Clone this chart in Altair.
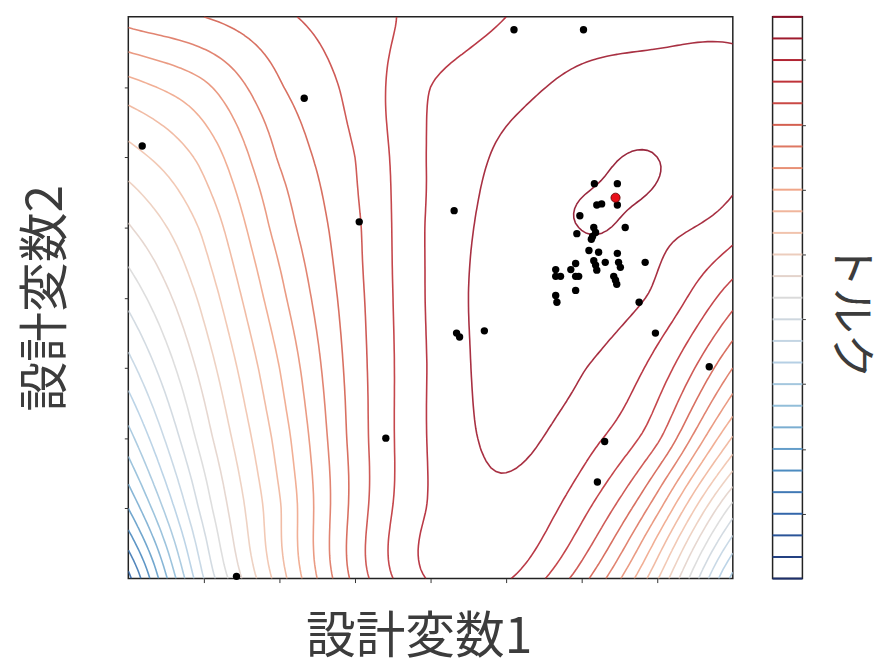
import numpy as np
import pandas as pd
import altair as alt

# ---------------- data ----------------
# torque on a 9 x 9 grid of the design space
grid_d1 = [0.0, 0.125, 0.25, 0.375, 0.5, 0.625, 0.75, 0.875, 1.0]
grid_d2 = [0.0, 0.125, 0.25, 0.375, 0.5, 0.625, 0.75, 0.875, 1.0]
# one list per design-variable-1 column, values from design2 = 0 (bottom) to 1 (top)
torque_c0 = [2.7, 6.0, 8.6, 10.6, 12.3, 13.9, 15.6, 17.6, 20.4]
torque_c1 = [11.0, 12.4, 13.5, 14.4, 15.3, 16.2, 17.3, 18.8, 21.0]
torque_c2 = [16.5, 16.9, 17.4, 18.0, 18.7, 19.4, 20.1, 20.9, 21.8]
torque_c3 = [21.3, 21.35, 21.4, 21.5, 21.65, 21.8, 22.0, 22.3, 22.6]
torque_c4 = [24.1, 24.1, 24.1, 24.1, 24.15, 24.15, 24.1, 24.0, 23.3]
torque_c5 = [24.1, 24.8, 25.2, 25.4, 25.5, 25.4, 25.15, 24.7, 24.0]
torque_c6 = [21.4, 23.3, 24.4, 25.05, 25.5, 26.02, 25.6, 25.25, 24.5]
torque_c7 = [16.1, 19.3, 22.2, 23.6, 24.8, 25.3, 26.0, 25.5, 24.6]
torque_c8 = [8.7, 12.6, 16.9, 20.0, 22.4, 24.45, 25.4, 25.5, 24.7]
# extra readings in and around the innermost (maximum) ring
peak_d1 = [0.78, 0.83, 0.84, 0.76]
peak_d2 = [0.65, 0.70, 0.635, 0.725]
peak_torque = [26.25, 26.25, 25.65, 25.7]

levels = list(range(0, 27))
colorbar_ticks = [3, 6, 9, 12, 15, 18, 21, 24]
axis_ticks = [0.125, 0.25, 0.375, 0.5, 0.625, 0.75, 0.875]

# sampled designs
design1 = [0.023, 0.291, 0.382, 0.638, 0.753, 0.539, 0.543, 0.548, 0.589, 0.426,
           0.179, 0.845, 0.872, 0.961, 0.788, 0.776,
           0.771, 0.809, 0.775, 0.783, 0.809, 0.747, 0.742, 0.770, 0.773, 0.768,
           0.822, 0.766, 0.762, 0.778, 0.809, 0.770, 0.773, 0.775, 0.789, 0.811,
           0.814, 0.855, 0.707, 0.707, 0.715, 0.740, 0.732, 0.740, 0.745, 0.803,
           0.806, 0.808, 0.740, 0.707, 0.709]
design2 = [0.770, 0.855, 0.635, 0.977, 0.977, 0.655, 0.437, 0.430, 0.441, 0.250,
           0.004, 0.492, 0.437, 0.377, 0.244, 0.172,
           0.703, 0.703, 0.665, 0.667, 0.665, 0.646, 0.614, 0.625, 0.616, 0.609,
           0.625, 0.604, 0.584, 0.581, 0.579, 0.566, 0.558, 0.549, 0.563, 0.563,
           0.554, 0.563, 0.550, 0.538, 0.538, 0.561, 0.550, 0.538, 0.538, 0.538,
           0.531, 0.524, 0.513, 0.504, 0.492]
best_d1 = [0.806]
best_d2 = [0.678]

# ---------------- smooth surface through the readings (thin-plate spline) ----------------
cols = [torque_c0, torque_c1, torque_c2, torque_c3, torque_c4,
        torque_c5, torque_c6, torque_c7, torque_c8]
nodes, vals = [], []
for i, u in enumerate(grid_d1):
    for j, v in enumerate(grid_d2):
        nodes.append((u, v))
        vals.append(cols[i][j])
for u, v, t in zip(peak_d1, peak_d2, peak_torque):
    nodes.append((u, v))
    vals.append(t)
P = np.array(nodes, dtype=float)
F = np.array(vals, dtype=float)


def phi(r):
    out = np.zeros_like(r)
    m = r > 0
    out[m] = r[m] ** 2 * np.log(r[m])
    return out


n = len(P)
K = phi(np.sqrt(((P[:, None, :] - P[None, :, :]) ** 2).sum(-1)))
Pm = np.hstack([np.ones((n, 1)), P])
A = np.zeros((n + 3, n + 3))
A[:n, :n] = K
A[:n, n:] = Pm
A[n:, :n] = Pm.T
sol = np.linalg.solve(A, np.concatenate([F, np.zeros(3)]))
w, a = sol[:n], sol[n:]

N = 121
xs = np.linspace(0, 1, N)
ys = np.linspace(0, 1, N)
X, Y = np.meshgrid(xs, ys)
Q = np.stack([X.ravel(), Y.ravel()], 1)
Z = phi(np.sqrt(((Q[:, None, :] - P[None, :, :]) ** 2).sum(-1))) @ w
Z = (Z + a[0] + a[1] * Q[:, 0] + a[2] * Q[:, 1]).reshape(N, N)

# ---------------- marching squares ----------------
cmin = np.minimum(np.minimum(Z[:-1, :-1], Z[:-1, 1:]), np.minimum(Z[1:, :-1], Z[1:, 1:]))
cmax = np.maximum(np.maximum(Z[:-1, :-1], Z[:-1, 1:]), np.maximum(Z[1:, :-1], Z[1:, 1:]))


def contour(level):
    B = Z > level
    pts = {}

    def ept(key):
        if key in pts:
            return pts[key]
        kind, j, i = key
        if kind == 0:
            z0, z1 = Z[j, i], Z[j, i + 1]
            t = (level - z0) / (z1 - z0)
            p = (xs[i] + t * (xs[i + 1] - xs[i]), ys[j])
        else:
            z0, z1 = Z[j, i], Z[j + 1, i]
            t = (level - z0) / (z1 - z0)
            p = (xs[i], ys[j] + t * (ys[j + 1] - ys[j]))
        pts[key] = p
        return p

    segs = []
    for j, i in np.argwhere((cmin < level) & (cmax > level)):
        j, i = int(j), int(i)
        c = int(B[j, i]) | int(B[j, i + 1]) << 1 | int(B[j + 1, i + 1]) << 2 | int(B[j + 1, i]) << 3
        bot, rig, top, lef = (0, j, i), (1, j, i + 1), (0, j + 1, i), (1, j, i)
        center = (Z[j, i] + Z[j, i + 1] + Z[j + 1, i] + Z[j + 1, i + 1]) / 4
        table = {1: [(lef, bot)], 2: [(bot, rig)], 3: [(lef, rig)], 4: [(rig, top)],
                 6: [(bot, top)], 7: [(lef, top)], 8: [(lef, top)], 9: [(bot, top)],
                 11: [(rig, top)], 12: [(lef, rig)], 13: [(bot, rig)], 14: [(lef, bot)]}
        if c == 5:
            s = [(bot, rig), (lef, top)] if center > level else [(lef, bot), (rig, top)]
        elif c == 10:
            s = [(lef, bot), (rig, top)] if center > level else [(bot, rig), (lef, top)]
        else:
            s = table.get(c, [])
        segs.extend(s)

    adj = {}
    for k, (p, q) in enumerate(segs):
        adj.setdefault(p, []).append(k)
        adj.setdefault(q, []).append(k)
    used = [False] * len(segs)
    paths = []
    for k in range(len(segs)):
        if used[k]:
            continue
        used[k] = True
        path = [segs[k][0], segs[k][1]]
        for direction in (1, 0):
            while True:
                end = path[-1] if direction else path[0]
                nxt = [s for s in adj[end] if not used[s]]
                if not nxt:
                    break
                s = nxt[0]
                used[s] = True
                p, q = segs[s]
                other = q if p == end else p
                if direction:
                    path.append(other)
                else:
                    path.insert(0, other)
        paths.append([ept(e) for e in path])
    return paths


rows = []
pid = 0
for lv in levels:
    for path in contour(lv):
        for k, (x, y) in enumerate(path):
            rows.append({"d1": round(float(x), 4), "d2": round(float(y), 4),
                         "level": lv, "path": pid, "idx": k})
        pid += 1
lines_df = pd.DataFrame(rows)
pts_df = pd.DataFrame({"d1": design1, "d2": design2})
best_df = pd.DataFrame({"d1": best_d1, "d2": best_d2})
cb_df = pd.DataFrame({"level": levels})

# ---------------- chart ----------------
color_scale = alt.Scale(
    domain=[0, 26],
    range=["#1d2f6b", "#2e5fa6", "#4f8fc2", "#8fbcd8", "#bcd3e6", "#dadada",
           "#f1c9b4", "#f0a385", "#d66452", "#bb2a35", "#8e1028"],
    interpolate="rgb",
)
xs_scale = alt.Scale(domain=[0, 1], nice=False, zero=False)
ys_scale = alt.Scale(domain=[0, 1], nice=False, zero=False)

TFONT = "Noto Sans CJK JP"
TCOLOR = "#3c3c3c"

x_enc = alt.X("d1:Q", scale=xs_scale,
              axis=alt.Axis(title="設計変数1", values=axis_ticks, labels=False, grid=False,
                            domain=False, tickSize=4, tickColor="#333", titlePadding=30,
                            titleX=292, titleFont=TFONT, titleFontSize=50,
                            titleFontWeight="normal", titleColor=TCOLOR))
y_enc = alt.Y("d2:Q", scale=ys_scale,
              axis=alt.Axis(title="設計変数2", values=axis_ticks, labels=False, grid=False,
                            domain=False, tickSize=4, tickColor="#333", titlePadding=53,
                            titleFont=TFONT, titleFontSize=50,
                            titleFontWeight="normal", titleColor=TCOLOR))

lines = alt.Chart(lines_df).mark_line(strokeWidth=1.6, clip=True, opacity=0.9).encode(
    x=x_enc, y=y_enc,
    detail="path:N", order="idx:Q",
    color=alt.Color("level:Q", scale=color_scale, legend=None),
)
pts = alt.Chart(pts_df).mark_circle(size=55, color="black", opacity=1).encode(
    x=alt.X("d1:Q", scale=xs_scale), y=alt.Y("d2:Q", scale=ys_scale))
best = alt.Chart(best_df).mark_circle(size=85, color="#e8101a", opacity=1,
                                      stroke="#5a0000", strokeWidth=0.8).encode(
    x=alt.X("d1:Q", scale=xs_scale), y=alt.Y("d2:Q", scale=ys_scale))

main = alt.layer(lines, pts, best).properties(width=608, height=565)

colorbar = alt.Chart(cb_df).mark_rule(strokeWidth=2).encode(
    y=alt.Y("level:Q", scale=alt.Scale(domain=[0, 26], nice=False, zero=False),
            axis=alt.Axis(orient="right", title="トルク", values=colorbar_ticks, labels=False,
                          grid=False, domain=False, tickSize=3, tickColor="#333",
                          titlePadding=20, titleFontSize=46, titleY=295,
                          titleFont=TFONT, titleFontWeight="normal", titleColor=TCOLOR)),
    color=alt.Color("level:Q", scale=color_scale, legend=None),
).properties(width=30, height=565)

chart = alt.hconcat(main, colorbar, spacing=37).properties(
    padding={"left": 12, "top": 5, "right": 0, "bottom": -7},
    background="white",
).configure_view(
    stroke="#222", strokeWidth=1.5
)

chart.save("out.html", embed_options={"renderer": "svg", "actions": False})
